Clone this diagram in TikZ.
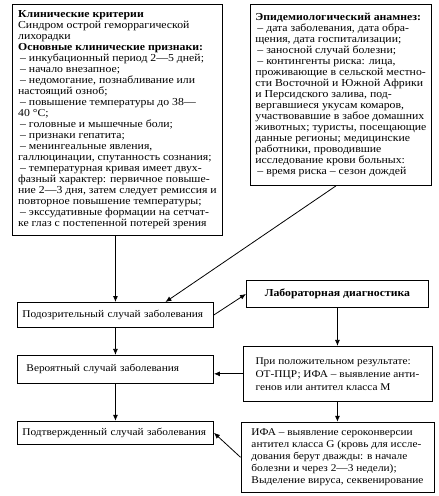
\documentclass[tikz,border=0pt]{standalone}
\usepackage{fontspec}
\setmainfont{Liberation Serif}[FakeStretch=1.1]
\usetikzlibrary{positioning,arrows.meta}
\newcommand{\itemdash}{\hspace*{2pt}–\ }

\begin{document}
\begin{tikzpicture}[x=1pt,y=-1pt,
    block/.style={draw,line width=0.9pt,align=left,inner xsep=4pt,inner ysep=0pt,
                  font=\fontsize{10.7}{11}\selectfont},
    casebox/.style={block,inner xsep=5pt,text width=186pt,font=\fontsize{10.3}{11}\selectfont},
    link/.style={line width=0.8pt,-{Latex[length=6pt,width=5pt]}}]
                        \useasboundingbox (0,0) rectangle (439,496);
                        \node[block, anchor=north west, minimum width=210pt, minimum height=231pt] (clinical) at (12,4)
                            {\textbf{Клинические критерии}\\
                             Синдром острой геморрагической\\
                             лихорадки\\
                             \textbf{Основные клинические признаки:}\\
                             \itemdash инкубационный период 2—5 дней;\\
                             \itemdash начало внезапное;\\
                             \itemdash недомогание, познабливание или\\
                             настоящий озноб;\\
                             \itemdash повышение температуры до 38—\\
                             40 °С;\\
                             \itemdash головные и мышечные боли;\\
                             \itemdash признаки гепатита;\\
                             \itemdash менингеальные явления,\\
                             галлюцинации, спутанность сознания;\\
                             \itemdash температурная кривая имеет двух-\\
                             фазный характер: первичное повыше-\\
                             ние 2—3 дня, затем следует ремиссия и\\
                             повторное повышение температуры;\\
                             \itemdash экссудативные формации на сетчат-\\
                             ке глаз с постепенной потерей зрения};
                        \node[block, anchor=north west, minimum width=181pt, minimum height=181pt] (anamnesis) at (250,4)
                            {\textbf{Эпидемиологический анамнез:}\\
                             \itemdash дата заболевания, дата обра-\\
                             щения, дата госпитализации;\\
                             \itemdash заносной случай болезни;\\
                             \itemdash контингенты риска: лица,\\
                             проживающие в сельской местно-\\
                             сти Восточной и Южной Африки\\
                             и Персидского залива, под-\\
                             вергавшиеся укусам комаров,\\
                             участвовавшие в забое домашних\\
                             животных; туристы, посещающие\\
                             данные регионы; медицинские\\
                             работники, проводившие\\
                             исследование крови больных:\\
                             \itemdash время риска – сезон дождей};
                        \node[casebox, anchor=north west, minimum height=25pt] (suspect) at (17,302)
                            {\mbox{Подозрительный случай заболевания}};
                        \node[block, anchor=north west, minimum width=182pt, minimum height=27pt] (lab) at (246,280)
                            {\textbf{Лабораторная диагностика}};
                        \node[casebox, below=27pt of suspect, minimum height=28pt] (probable)
                            {\hspace*{4pt}\mbox{Вероятный случай заболевания}};
                        \node[casebox, below=37pt of probable, minimum height=23pt] (confirmed)
                            {\mbox{Подтвержденный случай заболевания}};
                        \node[block, below=38pt of lab, minimum width=189pt, minimum height=55pt,
                              font=\fontsize{10.3}{13}\selectfont] (positive)
                            {При положительном результате:\\
                             ОТ-ПЦР; ИФА – выявление анти-\\
                             генов или антител класса М};
                        \node[block, below=20pt of positive, minimum width=193pt, minimum height=70pt,
                              font=\fontsize{10.3}{11.8}\selectfont] (final)
                            {ИФА – выявление сероконверсии\\
                             антител класса G (кровь для иссле-\\
                             дования берут дважды: в начале\\
                             болезни и через 2—3 недели);\\
                             Выделение вируса, секвенирование};
                        \path[link]
                            (suspect.north |- clinical.south) edge (suspect.north)
                            ([xshift=-5pt]anamnesis.south) edge ([xshift=50pt]suspect.north)
                            (suspect.east) edge (lab.west)
                            (lab) edge (positive)
                            (positive.west) edge (positive.west -| probable.east)
                            (suspect) edge (probable)
                            (probable) edge (confirmed)
                            (positive) edge (final)
                            (final.west) edge (confirmed.east);
                    \end{tikzpicture}
\end{document}
